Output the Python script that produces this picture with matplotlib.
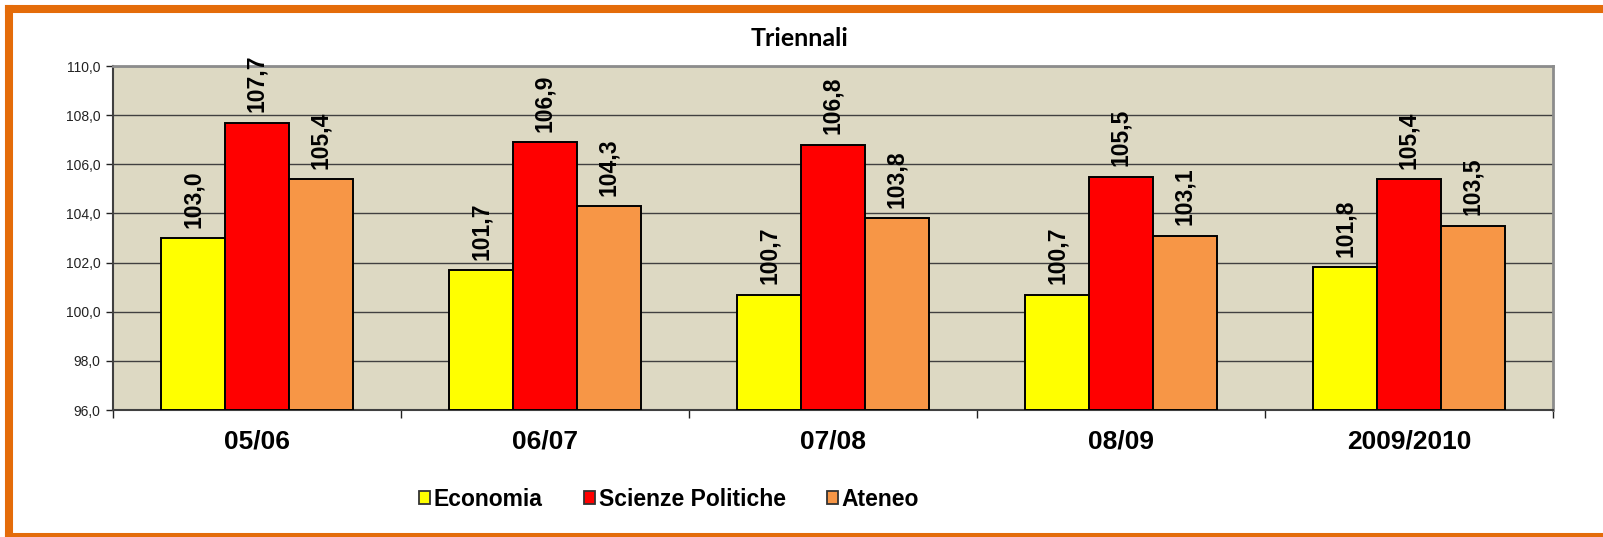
import matplotlib
matplotlib.use("Agg")
import matplotlib.pyplot as plt
from matplotlib.patches import Patch
from matplotlib.lines import Line2D
from matplotlib import font_manager
import numpy as np

categories = ["05/06", "06/07", "07/08", "08/09", "2009/2010"]
series_names = ["Economia", "Scienze Politiche", "Ateneo"]
economia = [103.0, 101.7, 100.7, 100.7, 101.8]
scienze = [107.7, 106.9, 106.8, 105.5, 105.4]
ateneo = [105.4, 104.3, 103.8, 103.1, 103.5]
colors = ["#FFFF00", "#FF0000", "#F79646"]
yticks = [96.0, 98.0, 100.0, 102.0, 104.0, 106.0, 108.0, 110.0]

W, H = 1603, 537
fig = plt.figure(figsize=(W / 100, H / 100), dpi=100)
fig.patch.set_facecolor("white")

ax = fig.add_axes([113 / W, 1 - 410 / H, (1553 - 113) / W, (410 - 66) / H])
ax.set_facecolor("#DDD9C3")

x = np.arange(len(categories))
bw = 0.222
for i, (vals, col) in enumerate(zip([economia, scienze, ateneo], colors)):
    pos = x + (i - 1) * bw
    ax.bar(pos, [v - 96.0 for v in vals], bottom=96.0, width=bw,
           color=col, edgecolor="black", linewidth=1.4, zorder=3)
    for p, v in zip(pos, vals):
        ax.annotate(f"{v:.1f}".replace(".", ","), xy=(p, v), xytext=(0, 7.5),
                    textcoords="offset points", rotation=90, ha="center",
                    va="bottom", fontsize=16.5, fontweight="bold",
                    family=["Liberation Sans", "DejaVu Sans"], color="black",
                    zorder=4)

ax.set_ylim(96, 110)
ax.set_xlim(-0.5, len(categories) - 0.5)
ax.set_yticks(yticks)
ax.set_yticklabels([f"{t:.1f}".replace(".", ",") for t in yticks],
                   fontsize=10, family=["Liberation Sans", "DejaVu Sans"],
                   color="#222222")
ax.yaxis.grid(True, color="#404040", linewidth=1.0, zorder=1)
ax.set_axisbelow(True)
ax.tick_params(axis="y", direction="out", length=5, width=1, color="#222222", pad=4)

ax.set_xticks(np.arange(-0.5, len(categories), 1.0))
ax.set_xticklabels([])
ax.tick_params(axis="x", which="major", direction="out", length=6, width=1, color="#222222")
ax.set_xticks(x, minor=True)
ax.set_xticklabels(categories, minor=True, fontsize=19, fontweight="bold",
                   family=["Liberation Sans", "DejaVu Sans"])
ax.tick_params(axis="x", which="minor", length=0, pad=14)

for s in ["top", "right"]:
    ax.spines[s].set_color("#8C8C8C")
    ax.spines[s].set_linewidth(2.0)
for s in ["left", "bottom"]:
    ax.spines[s].set_color("#404040")
    ax.spines[s].set_linewidth(1.5)

fig.text(800 / W, 1 - 38 / H, "Triennali", ha="center", va="center",
         fontsize=18, fontweight="bold", family=["Lato", "DejaVu Sans"])

available = {f.name for f in font_manager.fontManager.ttflist}
if "Liberation Sans Narrow" in available:
    leg_family, leg_size, leg_cs = "Liberation Sans Narrow", 17, 2.6
else:
    leg_family, leg_size, leg_cs = "Liberation Sans", 16.5, 1.8

handles = [Patch(facecolor=c, edgecolor="#333333", linewidth=1.3) for c in colors]
fig.legend(handles, series_names, loc="center", bbox_to_anchor=(669 / W, 1 - 499 / H),
           ncol=3, frameon=False, handlelength=0.5, handleheight=0.5,
           handletextpad=0.15, columnspacing=leg_cs,
           prop={"family": leg_family, "weight": "bold", "size": leg_size})

bc = "#E46C0A"
blw = 5.8
fig.add_artist(Line2D([9 / W, 9 / W], [0, 1 - 9 / H], transform=fig.transFigure,
                      color=bc, linewidth=blw, solid_capstyle="projecting"))
fig.add_artist(Line2D([9 / W, 1.0], [1 - 9 / H, 1 - 9 / H], transform=fig.transFigure,
                      color=bc, linewidth=blw, solid_capstyle="projecting"))
fig.add_artist(Line2D([9 / W, 1.0], [0.5 / H, 0.5 / H], transform=fig.transFigure,
                      color=bc, linewidth=blw, solid_capstyle="projecting"))

fig.savefig("out.png", dpi=100, facecolor="white")
